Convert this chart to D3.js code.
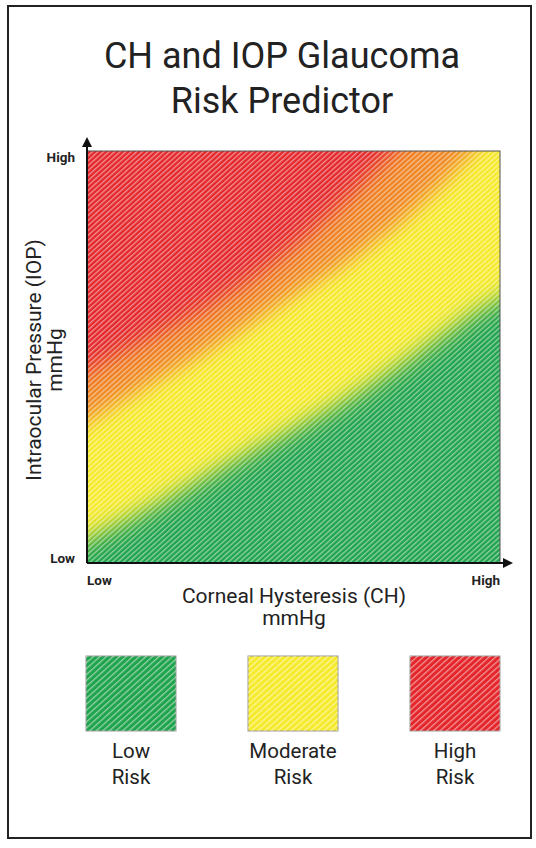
<!DOCTYPE html>
<html><head><meta charset="utf-8">
<script src="https://cdn.jsdelivr.net/npm/d3@7"></script>
<style>body{margin:0;background:#fff}svg{display:block}</style>
</head><body><svg id="c" width="536" height="848"></svg>
<script>
const titleLines = ["CH and IOP Glaucoma", "Risk Predictor"];
const xTickLabels = ["Low", "High"];
const yTickLabels = ["Low", "High"];
const xAxisTitle = ["Corneal Hysteresis (CH)", "mmHg"];
const yAxisTitle = ["Intraocular Pressure (IOP)", "mmHg"];
const riskLevels = ["Low", "Moderate", "High"];
const riskColors = ["#1fa34d", "#f6ea2c", "#e4252a"];
const transitionColor = "#ef8424";
// Core high-risk (red) edge, normalised CH / IOP
const redCH  = [-0.1, 0.0, 0.306, 0.516, 0.76, 0.9];
const redIOP = [0.40, 0.465, 0.63, 0.78, 1.02, 1.2];
// Moderate / high boundary (yellow to orange)
const highCH  = [-0.1, 0.0, 0.144, 0.306, 0.516, 0.628, 0.79, 0.95, 1.08];
const highIOP = [0.29, 0.345, 0.43, 0.525, 0.66, 0.73, 0.855, 1.02, 1.2];
// Low / moderate boundary (green to yellow)
const lowCH  = [-0.1, 0.0, 0.16, 0.305, 0.63, 0.789, 0.952, 1.0, 1.1];
const lowIOP = [0.0, 0.056, 0.136, 0.218, 0.396, 0.5, 0.614, 0.638, 0.7];

const svg = d3.select("#c");
const font = "Roboto, 'Open Sans', sans-serif";
const P = {l: 87, r: 500, t: 151, b: 563};
const x = d3.scaleLinear().domain([0, 1]).range([P.l, P.r]);
const y = d3.scaleLinear().domain([0, 1]).range([P.b, P.t]);

const defs = svg.append("defs");
defs.append("clipPath").attr("id", "plotClip").append("rect")
  .attr("x", P.l).attr("y", P.t).attr("width", P.r - P.l).attr("height", P.b - P.t);
function blur(id, sd) {
  defs.append("filter").attr("id", id).attr("filterUnits", "userSpaceOnUse")
    .attr("x", -200).attr("y", -200).attr("width", 1000).attr("height", 1200)
    .append("feGaussianBlur").attr("stdDeviation", sd);
}
blur("blurLow", 11);
blur("blurMid", 10);
blur("blurHigh", 10);
function hatch(id, spacing, w, op) {
  const p = defs.append("pattern").attr("id", id).attr("patternUnits", "userSpaceOnUse")
    .attr("width", spacing).attr("height", 10).attr("patternTransform", "rotate(48)");
  p.append("rect").attr("x", 0).attr("y", 0).attr("width", w).attr("height", 10)
    .attr("fill", "#fff").attr("opacity", op);
}
hatch("hatchPlot", 3.7, 1.3, 0.5);
hatch("hatchLegend", 4.4, 1.3, 0.5);
defs.append("marker").attr("id", "arrow").attr("viewBox", "0 -5 10 10")
  .attr("refX", 0).attr("refY", 0).attr("markerWidth", 10).attr("markerHeight", 10)
  .attr("markerUnits", "userSpaceOnUse").attr("orient", "auto")
  .append("path").attr("d", "M0,-5L10,0L0,5Z").attr("fill", "#111");

// frame
svg.append("rect").attr("x", 8).attr("y", 6).attr("width", 523).attr("height", 832)
  .attr("fill", "none").attr("stroke", "#222").attr("stroke-width", 2);

// title
svg.selectAll("text.title").data(titleLines).join("text").attr("class", "title")
  .attr("x", 282).attr("y", (d, i) => 68 + i * 45).attr("text-anchor", "middle")
  .attr("font-family", font).attr("font-size", 36).attr("fill", "#222").text(d => d);

// heat field
const g = svg.append("g").attr("clip-path", "url(#plotClip)");
g.append("rect").attr("x", P.l).attr("y", P.t).attr("width", P.r - P.l).attr("height", P.b - P.t)
  .attr("fill", riskColors[0]);
const area = d3.area().curve(d3.curveCatmullRom)
  .x(d => x(d[0])).y0(y(1.5)).y1(d => y(d[1]));
const zip = (a, b) => a.map((c, i) => [c, b[i]]);
g.append("path").datum(zip(lowCH, lowIOP)).attr("d", area).attr("fill", riskColors[1]).attr("filter", "url(#blurLow)");
g.append("path").datum(zip(highCH, highIOP)).attr("d", area).attr("fill", transitionColor).attr("filter", "url(#blurMid)");
g.append("path").datum(zip(redCH, redIOP)).attr("d", area).attr("fill", riskColors[2]).attr("filter", "url(#blurHigh)");
g.append("rect").attr("x", P.l).attr("y", P.t).attr("width", P.r - P.l).attr("height", P.b - P.t)
  .attr("fill", "url(#hatchPlot)");

// plot border
svg.append("rect").attr("x", P.l).attr("y", P.t).attr("width", P.r - P.l).attr("height", P.b - P.t)
  .attr("fill", "none").attr("stroke", "#555").attr("stroke-width", 1);

// axes with arrows
svg.append("line").attr("x1", x(0)).attr("y1", y(0)).attr("x2", x(1) + 3).attr("y2", y(0))
  .attr("stroke", "#111").attr("stroke-width", 2).attr("marker-end", "url(#arrow)");
svg.append("line").attr("x1", x(0)).attr("y1", y(0)).attr("x2", x(0)).attr("y2", y(1) - 4)
  .attr("stroke", "#111").attr("stroke-width", 2).attr("marker-end", "url(#arrow)");

// tick labels
svg.selectAll("text.xt").data(xTickLabels).join("text").attr("class", "xt")
  .attr("x", (d, i) => x(i)).attr("y", 585)
  .attr("text-anchor", (d, i) => i ? "end" : "start")
  .attr("font-family", font).attr("font-weight", 700).attr("font-size", 13.5).attr("fill", "#222").text(d => d);
svg.selectAll("text.yt").data(yTickLabels).join("text").attr("class", "yt")
  .attr("x", 75).attr("y", (d, i) => i ? y(1) + 11 : y(0))
  .attr("text-anchor", "end")
  .attr("font-family", font).attr("font-weight", 700).attr("font-size", 13.5).attr("fill", "#222").text(d => d);

// axis titles
svg.selectAll("text.xa").data(xAxisTitle).join("text").attr("class", "xa")
  .attr("x", 294).attr("y", (d, i) => 603 + i * 22).attr("text-anchor", "middle")
  .attr("font-family", font).attr("font-size", 21).attr("fill", "#222").text(d => d);
svg.selectAll("text.ya").data(yAxisTitle).join("text").attr("class", "ya")
  .attr("transform", (d, i) => `translate(${41 + i * 21},360) rotate(-90)`)
  .attr("text-anchor", "middle")
  .attr("font-family", font).attr("font-size", 21).attr("fill", "#222").text(d => d);

// legend
const lx = d3.scalePoint().domain(riskLevels).range([131, 455]);
const lg = svg.selectAll("g.leg").data(riskLevels).join("g").attr("class", "leg")
  .attr("transform", d => `translate(${lx(d)},0)`);
lg.append("rect").attr("x", -45).attr("y", 656).attr("width", 90).attr("height", 75)
  .attr("fill", (d, i) => riskColors[i]).attr("stroke", "#999").attr("stroke-width", 1);
lg.append("rect").attr("x", -45).attr("y", 656).attr("width", 90).attr("height", 75)
  .attr("fill", "url(#hatchLegend)");
lg.append("text").attr("y", 758).attr("text-anchor", "middle")
  .attr("font-family", font).attr("font-size", 20.5).attr("fill", "#222").text(d => d);
lg.append("text").attr("y", 784).attr("text-anchor", "middle")
  .attr("font-family", font).attr("font-size", 20.5).attr("fill", "#222").text("Risk");
</script></body></html>
